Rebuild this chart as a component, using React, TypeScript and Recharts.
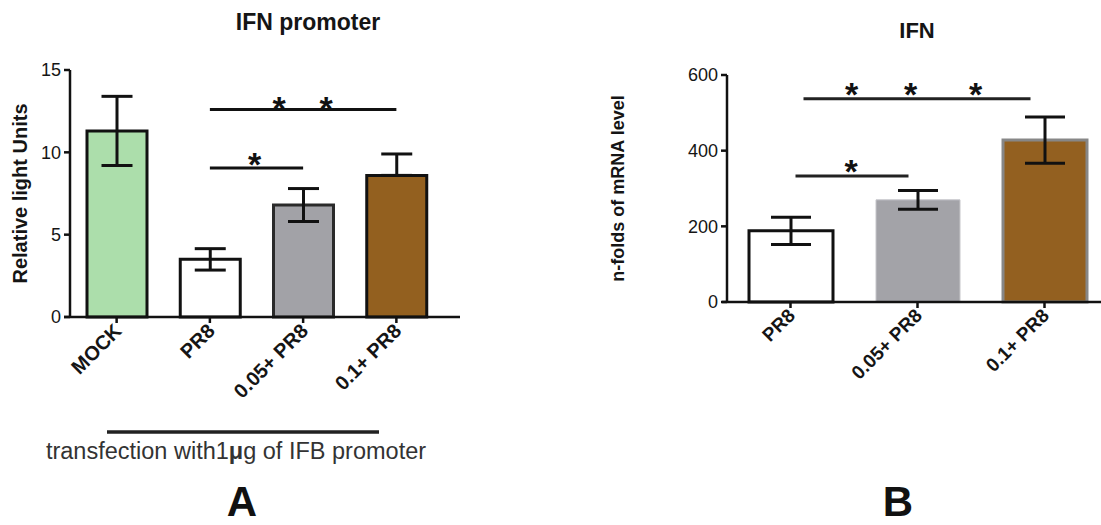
import React from 'react';
import { BarChart, Bar, XAxis, YAxis, Cell, ErrorBar, ReferenceLine } from 'recharts';

// panel A: luciferase IFN promoter
const groupsA = ['MOCK', 'PR8', '0.05+ PR8', '0.1+ PR8'];
const valuesA = [11.3, 3.5, 6.8, 8.6];
const errorsA: (number | number[])[] = [2.1, 0.65, 1.0, [0, 1.3]];
const ticksA = [0, 5, 10, 15];
const sigA = [
  { from: 'PR8', to: '0.1+ PR8', y: 12.6, stars: 2 },
  { from: 'PR8', to: '0.05+ PR8', y: 9.05, stars: 1 },
];

// panel B: IFN mRNA
const groupsB = ['PR8', '0.05+ PR8', '0.1+ PR8'];
const valuesB = [188, 270, 428];
const errorsB = [36, 25, 61];
const ticksB = [0, 200, 400, 600];
const sigB = [
  { from: 'PR8', to: '0.1+ PR8', y: 537, stars: 3 },
  { from: 'PR8', to: '0.05+ PR8', y: 333, stars: 1 },
];

const dataA = groupsA.map((name, i) => ({ name, value: valuesA[i], err: errorsA[i] }));
const dataB = groupsB.map((name, i) => ({ name, value: valuesB[i], err: errorsB[i] }));

const FONT = "Arial, 'Liberation Sans', sans-serif";
const fillsA = ['#acdeab', '#ffffff', '#a2a2a7', '#93601f'];
const strokeA = ['#111', '#111', '#2a2a2a', '#111'];
const fillsB = ['#ffffff', '#a3a3a8', '#936020'];
const strokeB = ['#111', '#c6c6ca', '#878787'];
const strokeWB = [3, 1, 3];

// star pixel offsets from line centre, baseline shift below line
const starStyleA = [{ offs: [-24, 23], dy: 10 }, { offs: [-2], dy: 8 }];
const starStyleB = [{ offs: [-66, -7, 58], dy: 7 }, { offs: [-3], dy: 7 }];
const insetB = [[13, 14], [5, 9]];

const SlantTick = (props: any) => {
  const { x, y, payload, fontSize } = props;
  return (
    <g transform={`translate(${x - 4},${y - 3})`}>
      <text transform="rotate(-45)" textAnchor="end" dy="0.72em" fontSize={fontSize}
        fontWeight="bold" fill="#151515" fontFamily={FONT}>{payload.value}</text>
    </g>
  );
};

const Stars = ({ viewBox, offs, dy }: any) => {
  if (!viewBox) return null;
  const cx = viewBox.x + viewBox.width / 2;
  return (
    <g>
      {offs.map((o: number, i: number) => (
        <text key={i} x={cx + o} y={viewBox.y + dy} textAnchor="middle" fontSize={34}
          fontWeight="bold" fill="#111" fontFamily={FONT}>*</text>
      ))}
    </g>
  );
};

const yLabel = (text: string, dx: number, size: number) => (p: any) => {
  const vb = p.viewBox;
  if (!vb) return null;
  const cx = vb.x + dx;
  const cy = vb.y + vb.height / 2;
  return (
    <text x={cx} y={cy} transform={`rotate(-90 ${cx} ${cy})`} textAnchor="middle"
      dominantBaseline="central" fontSize={size} fontWeight="bold" fill="#151515" fontFamily={FONT}>
      {text}
    </text>
  );
};

const baseLine = (ext: number) => (p: any) => (
  <line x1={p.x1 - ext} y1={p.y1} x2={p.x2 + 20} y2={p.y2} stroke="#111" strokeWidth={2.5} />
);

const insetLine = (a: number, b: number, w: number) => (p: any) => (
  <line x1={p.x1 + a} y1={p.y1} x2={p.x2 - b} y2={p.y2} stroke="#222" strokeWidth={w} />
);

export default function App() {
  return (
    <div style={{ position: 'absolute', left: 0, top: 0, width: 1101, height: 525, overflow: 'hidden', background: '#fff', fontFamily: FONT }}>
      <div style={{ position: 'absolute', left: 0, top: 0 }}>
        <BarChart width={460} height={430} data={dataA} margin={{ top: 70, right: 17, left: 0, bottom: 0 }}>
          <XAxis dataKey="name" height={113} axisLine={false} tickLine={{ stroke: '#111', strokeWidth: 2.5 }}
            tickSize={6} interval={0} tick={<SlantTick fontSize={20} />} />
          <YAxis width={70} domain={[0, 15]} ticks={ticksA} tickSize={6} tickMargin={3}
            axisLine={{ stroke: '#111', strokeWidth: 2.5 }} tickLine={{ stroke: '#111', strokeWidth: 2.5 }}
            tick={{ fontSize: 18, fill: '#151515', fontFamily: FONT }}
            label={yLabel('Relative light Units', 20, 20)} />
          <ReferenceLine y={0} shape={baseLine(6)} />
          <Bar dataKey="value" barSize={60} isAnimationActive={false}>
            {dataA.map((d, i) => (
              <Cell key={d.name} fill={fillsA[i]} stroke={strokeA[i]} strokeWidth={3} />
            ))}
            <ErrorBar dataKey="err" width={15.5} stroke="#111" strokeWidth={3} />
          </Bar>
          {sigA.map((s, i) => (
            <ReferenceLine key={i} segment={[{ x: s.from, y: s.y }, { x: s.to, y: s.y }]}
              stroke="#111" strokeWidth={3}
              label={(p: any) => <Stars viewBox={p.viewBox} offs={starStyleA[i].offs.slice(0, s.stars)} dy={starStyleA[i].dy} />} />
          ))}
        </BarChart>
      </div>

      <div style={{ position: 'absolute', left: 580, top: 0 }}>
        <BarChart width={540} height={430} data={dataB} margin={{ top: 75, right: 12, left: 0, bottom: 0 }}>
          <XAxis dataKey="name" height={128} axisLine={false} tickLine={{ stroke: '#111', strokeWidth: 2.5 }}
            tickSize={6} interval={0} tick={<SlantTick fontSize={19} />} />
          <YAxis width={147} domain={[0, 600]} ticks={ticksB} tickSize={6} tickMargin={3}
            axisLine={{ stroke: '#111', strokeWidth: 2.5 }} tickLine={{ stroke: '#111', strokeWidth: 2.5 }}
            tick={{ fontSize: 18, fill: '#151515', fontFamily: FONT }}
            label={yLabel('n-folds of mRNA level', 38, 18)} />
          <ReferenceLine y={0} shape={baseLine(5)} />
          <Bar dataKey="value" barSize={84} isAnimationActive={false}>
            {dataB.map((d, i) => (
              <Cell key={d.name} fill={fillsB[i]} stroke={strokeB[i]} strokeWidth={strokeWB[i]} />
            ))}
            <ErrorBar dataKey="err" width={20} stroke="#111" strokeWidth={3} />
          </Bar>
          {sigB.map((s, i) => (
            <ReferenceLine key={i} segment={[{ x: s.from, y: s.y }, { x: s.to, y: s.y }]}
              shape={insetLine(insetB[i][0], insetB[i][1], 3)}
              label={(p: any) => <Stars viewBox={p.viewBox} offs={starStyleB[i].offs.slice(0, s.stars)} dy={starStyleB[i].dy} />} />
          ))}
        </BarChart>
      </div>

      <svg width={1101} height={525} style={{ position: 'absolute', left: 0, top: 0, pointerEvents: 'none' }}>
        <text x={308} y={30} textAnchor="middle" fontSize={23} fontWeight="bold" fill="#151515" fontFamily={FONT}>IFN promoter</text>
        <text x={917} y={38} textAnchor="middle" fontSize={22} fontWeight="bold" fill="#151515" fontFamily={FONT}>IFN</text>
        <line x1={107} y1={432} x2={379} y2={432} stroke="#222" strokeWidth={3.5} />
        <text x={236} y={459} textAnchor="middle" fontSize={23.5} fill="#333" fontFamily={FONT}>
          transfection with1<tspan fontWeight="bold">μ</tspan>g of IFB promoter
        </text>
        <text x={242} y={516} textAnchor="middle" fontSize={42} fontWeight="bold" fill="#111" fontFamily={FONT}>A</text>
        <text x={898} y={516} textAnchor="middle" fontSize={42} fontWeight="bold" fill="#111" fontFamily={FONT}>B</text>
      </svg>
    </div>
  );
}
